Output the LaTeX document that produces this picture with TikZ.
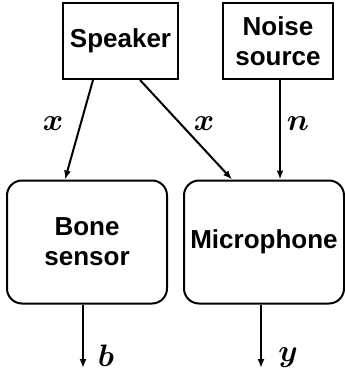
\documentclass[tikz,border=0pt]{standalone}
\usepackage{amsmath}
\usepackage{fontspec}
\setmainfont{Liberation Sans}
\usetikzlibrary{positioning, arrows.meta, calc}

\newcommand{\bigsym}[1]{\scalebox{3.1}{$\boldsymbol{#1}$}}
\tikzset{
  block/.style={draw, line width=2pt, align=center, font=\bfseries\fontsize{26}{30}\selectfont},
  sensor/.style={block, rounded corners=15pt, minimum width=160pt, minimum height=123pt},
  signal/.style={-{Latex[length=9pt,width=7pt]}, line width=2pt}
}

\begin{document}
\begin{tikzpicture}[x=1pt,y=-1pt]
  \useasboundingbox (0,0) rectangle (345,375);
  % sources
  \node[block, minimum width=115pt, minimum height=76pt] (speaker) at (120.5,41) {Speaker};
  \node[block, minimum width=110pt, minimum height=76pt] (noise) at (278,41) {Noise\\source};
  % sensors
  \node[sensor] (bone) at (87,242) {Bone\\sensor};
  \node[sensor, inner sep=1pt] (mic) at (264,242) {Microphone};
  % outputs
  \coordinate (bout) at (83,368);
  \coordinate (yout) at (261,368);

  \draw[signal] ([xshift=-27.5pt]speaker.south) -- ([xshift=-22pt]bone.north);
  \draw[signal] ([xshift=19.5pt]speaker.south) -- ([xshift=-32pt]mic.north);
  \draw[signal] ([xshift=2pt]noise.south) -- ([xshift=16pt]mic.north);
  \draw[signal] (bone.south -| bout) -- (bout);
  \draw[signal] (mic.south -| yout) -- (yout);

  \node at (53,124) {\bigsym{x}};
  \node at (204,124) {\bigsym{x}};
  \node at (298,124) {\bigsym{n}};
  \node at (106,356) {\bigsym{b}};
  \node at (288,358) {\bigsym{y}};
\end{tikzpicture}
\end{document}
